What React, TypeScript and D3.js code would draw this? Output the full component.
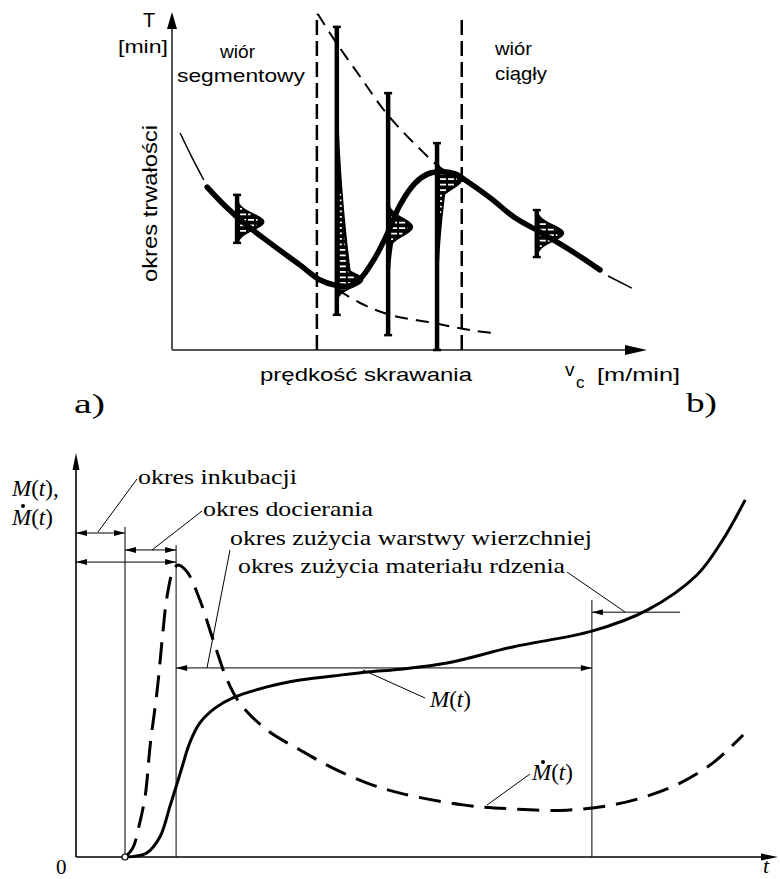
import React from "react";
import * as d3 from "d3";

// ---------- Chart a) : tool life vs cutting speed (units 0..100) ----------
const lifeThinStart: [number, number][] = [[1.7, 64.2], [4.2, 57.0], [6.7, 50.3]];
const lifeMain: [number, number][] = [
  [7.4, 48.2], [11.2, 42.6], [15.4, 37.3], [20.6, 31.7], [27.0, 25.1], [31.2, 20.7],
  [34.3, 19.2], [37.1, 18.9], [39.6, 21.0], [42.7, 27.2], [45.5, 34.9], [48.0, 42.9],
  [51.2, 49.4], [53.9, 52.1], [56.4, 52.7], [59.6, 52.1], [61.7, 50.3], [67.0, 45.0],
  [72.2, 39.1], [77.5, 34.9], [83.8, 29.6], [90.1, 23.7],
];
const lifeThinEnd: [number, number][] = [[91.8, 21.9], [96.8, 18.3]];
const upperEnvelope: [number, number][] = [
  [30.7, 99.4], [34.5, 91.1], [39.8, 80.5], [45.1, 70.1], [50.3, 62.1], [56.4, 53.8],
];
const lowerEnvelope: [number, number][] = [
  [35.0, 17.8], [39.6, 13.9], [45.9, 10.4], [55.0, 8.0], [62.7, 5.9], [68.0, 5.0],
];
const chipBoundaries = [30.5, 61.0];
const bells = [
  { x: 13.7, top: 45.9, bottom: 31.7, peak: 37.9, width: 5.6, sUp: 3.3, sDown: 3.3, tailTo: null as number | null, tailW: 0 },
  { x: 34.7, top: 95.6, bottom: 10.4, peak: 20.7, width: 5.4, sUp: 3.2, sDown: 3.0, tailTo: 85, tailW: 3 },
  { x: 45.5, top: 76.0, bottom: 4.4, peak: 36.4, width: 5.1, sUp: 3.6, sDown: 3.6, tailTo: 15, tailW: 1.5 },
  { x: 55.8, top: 61.2, bottom: 0, peak: 50.5, width: 5.2, sUp: 2.5, sDown: 4.0, tailTo: 12, tailW: 2 },
  { x: 76.8, top: 41.4, bottom: 27.5, peak: 34.6, width: 5.6, sUp: 3.3, sDown: 3.3, tailTo: null as number | null, tailW: 0 },
];

// ---------- Chart b) : wear M(t) and wear rate (units 0..100) ----------
const wear: [number, number][] = [
  [7.0, 0], [10.1, 1.0], [12.0, 5.0], [13.4, 12.4], [14.9, 20.8], [16.3, 28.5], [17.7, 33.2],
  [19.9, 36.9], [22.4, 39.4], [27.3, 42.1], [32.0, 43.8], [36.7, 44.8], [41.6, 45.8],
  [46.3, 46.5], [53.0, 48.0], [62.4, 52.0], [73.7, 55.9], [81.6, 61.1], [88.7, 69.8],
  [92.4, 78.5], [95.6, 88.4],
];
const wearRate: [number, number][] = [
  [7.0, 0], [8.1, 2.2], [9.1, 8.4], [9.9, 15.3], [10.6, 27.7], [11.6, 41.3], [12.4, 55.4],
  [13.0, 64.4], [13.9, 71.0], [14.6, 72.3], [15.9, 70.5], [17.7, 63.6], [19.6, 53.7],
  [21.6, 43.8], [23.4, 38.1], [27.3, 31.4], [32.0, 26.5], [36.7, 22.0], [41.6, 18.3],
  [46.3, 15.8], [55.3, 12.9], [62.4, 11.9], [70.1, 11.6], [76.7, 12.9], [82.0, 15.3],
  [86.3, 18.3], [91.0, 23.3], [95.3, 30.2],
];
const phaseBounds = [7.0, 14.3, 73.7];
const phaseTops = [81.7, 77.2, 63.6];
const periodArrows = [
  { from: 0, to: 7.0, level: 80.2, both: true },
  { from: 7.0, to: 14.3, level: 76.0, both: true },
  { from: 0, to: 14.3, level: 73.0, both: true },
  { from: 14.3, to: 73.7, level: 46.8, both: true },
  { from: 86.3, to: 73.7, level: 60.6, both: false },
];
const periodLabels = ["okres inkubacji", "okres docierania", "okres zużycia warstwy wierzchniej", "okres zużycia materiału rdzenia"];

const xA = d3.scaleLinear().domain([0, 100]).range([172, 647]);
const yA = d3.scaleLinear().domain([0, 100]).range([350, 12]);
const xB = d3.scaleLinear().domain([0, 100]).range([76, 776]);
const yB = d3.scaleLinear().domain([0, 100]).range([857, 453]);

const lineA = d3.line<[number, number]>().x(d => xA(d[0])).y(d => yA(d[1])).curve(d3.curveCatmullRom.alpha(0.5));
const lineB = d3.line<[number, number]>().x(d => xB(d[0])).y(d => yB(d[1])).curve(d3.curveCatmullRom.alpha(0.5));
const lineLin = d3.line<[number, number]>().x(d => xA(d[0])).y(d => yA(d[1]));

function bellW(b: typeof bells[number], v: number) {
  const d = v - b.peak;
  const s = d > 0 ? b.sUp : b.sDown;
  let w = b.width * Math.exp(-(d / s) * (d / s));
  if (b.tailTo != null) {
    const t = d / (b.tailTo - b.peak);
    if (t >= 0 && t <= 1) w = Math.max(w, b.tailW * (1 - t) * (1 - t));
  }
  return w;
}

const SANS = "'Liberation Sans', Arial, Helvetica, sans-serif";
const SERIF = "'Liberation Serif', 'Times New Roman', Times, serif";

function Head({ x, y, dir, len = 11, half = 3 }: { x: number; y: number; dir: "l" | "r" | "u"; len?: number; half?: number }) {
  let pts: number[][];
  if (dir === "r") pts = [[x, y], [x - len, y - half], [x - len, y + half]];
  else if (dir === "l") pts = [[x, y], [x + len, y - half], [x + len, y + half]];
  else pts = [[x, y], [x - half, y + len], [x + half, y + len]];
  return <polygon points={pts.map(p => p.join(",")).join(" ")} fill="#000" />;
}

export default function App() {
  return (
    <svg width={780} height={879} style={{ position: "absolute", left: 0, top: 0, background: "#fff" }}>
      {/* ================= chart a) ================= */}
      <g>
        <line x1={xA(0)} y1={yA(0)} x2={xA(0)} y2={yA(100) + 14} stroke="#555" strokeWidth={2} />
        <line x1={xA(0)} y1={yA(0)} x2={xA(100) - 16} y2={yA(0)} stroke="#555" strokeWidth={2} />
        <Head x={xA(0)} y={yA(100)} dir="u" len={17} half={5} />
        <Head x={xA(100)} y={yA(0)} dir="r" len={22} half={5} />

        {chipBoundaries.map((b, i) => (
          <line key={i} x1={xA(b)} x2={xA(b)} y1={yA(0)} y2={yA(99.2 - i * 0.6)} stroke="#000" strokeWidth={2.5} strokeDasharray="15 6" />
        ))}

        <path d={lineA(upperEnvelope)!} fill="none" stroke="#000" strokeWidth={2} strokeDasharray="13 8" />
        <path d={lineLin([[chipBoundaries[0], 99.2], upperEnvelope[0]])!} fill="none" stroke="#000" strokeWidth={2} />
        <path d={lineA(lowerEnvelope)!} fill="none" stroke="#000" strokeWidth={2} strokeDasharray="13 8" />

        {bells.map((b, i) => {
          const n = 240;
          const pts: [number, number][] = [[b.x, b.bottom]];
          for (let k = 0; k <= n; k++) {
            const v = b.bottom + (b.top - b.bottom) * (k / n);
            pts.push([b.x + bellW(b, v), v]);
          }
          pts.push([b.x, b.top]);
          const bx = xA(b.x);
          const hatches: JSX.Element[] = [];
          const pTop = yA(b.top), pBot = yA(b.bottom);
          for (let py = pTop + 3; py < pBot - 2; py += 5.5) {
            const wpx = xA(b.x + bellW(b, yA.invert(py))) - bx;
            if (wpx > 5) {
              hatches.push(<line key={py} x1={bx + 3} x2={bx + wpx * 0.8} y1={py} y2={py} stroke="#fff" strokeWidth={1.8} strokeDasharray={wpx > 10 ? "6 2" : "2 2"} />);
            }
          }
          return (
            <g key={i}>
              <path d={lineLin(pts)! + "Z"} fill="#000" stroke="#000" strokeWidth={1.5} />
              <line x1={bx} x2={bx} y1={pTop} y2={pBot} stroke="#000" strokeWidth={4.5} />
              <line x1={bx - 4} x2={bx + 4} y1={pTop} y2={pTop} stroke="#000" strokeWidth={2.5} />
              <line x1={bx - 4} x2={bx + 4} y1={pBot} y2={pBot} stroke="#000" strokeWidth={2.5} />
              {hatches}
            </g>
          );
        })}

        <path d={lineA(lifeThinStart)!} fill="none" stroke="#000" strokeWidth={1.5} />
        <path d={lineA(lifeMain)!} fill="none" stroke="#000" strokeWidth={5.5} strokeLinecap="round" strokeLinejoin="round" />
        <path d={lineA(lifeThinEnd)!} fill="none" stroke="#000" strokeWidth={1.5} />

        <g fontFamily={SANS} fill="#000">
          <text x={143} y={27} fontSize={20}>T</text>
          <text x={118} y={53} fontSize={19} textLength={50} lengthAdjust="spacingAndGlyphs">[min]</text>
          <text x={220} y={58} fontSize={19} textLength={35} lengthAdjust="spacingAndGlyphs">wiór</text>
          <text x={177} y={82} fontSize={19} textLength={128} lengthAdjust="spacingAndGlyphs">segmentowy</text>
          <text x={495} y={55} fontSize={19} textLength={37} lengthAdjust="spacingAndGlyphs">wiór</text>
          <text x={495} y={80} fontSize={19} textLength={52} lengthAdjust="spacingAndGlyphs">ciągły</text>
          <text transform="translate(157,282) rotate(-90)" fontSize={20} textLength={157} lengthAdjust="spacingAndGlyphs">okres trwałości</text>
          <text x={260} y={381} fontSize={19} textLength={212} lengthAdjust="spacingAndGlyphs">prędkość skrawania</text>
          <text x={565} y={376} fontSize={19}>v</text>
          <text x={576} y={388} fontSize={17}>c</text>
          <text x={597} y={381} fontSize={19} textLength={83} lengthAdjust="spacingAndGlyphs">[m/min]</text>
        </g>
        <g fontFamily={SERIF} fill="#000">
          <text x={74} y={413} fontSize={28} textLength={31} lengthAdjust="spacingAndGlyphs">a)</text>
          <text x={686} y={412} fontSize={28} textLength={31} lengthAdjust="spacingAndGlyphs">b)</text>
        </g>
      </g>

      {/* ================= chart b) ================= */}
      <g>
        <line x1={xB(0)} y1={yB(0)} x2={xB(0)} y2={yB(100) + 10} stroke="#000" strokeWidth={1.6} />
        <line x1={xB(0)} y1={yB(0)} x2={xB(100) - 10} y2={yB(0)} stroke="#000" strokeWidth={1.6} />
        <Head x={xB(0)} y={yB(100)} dir="u" len={17} half={3.5} />
        <Head x={xB(100) + 2} y={yB(0)} dir="r" len={17} half={3.5} />

        {phaseBounds.map((t, i) => (
          <line key={i} x1={xB(t)} x2={xB(t)} y1={yB(0)} y2={yB(phaseTops[i])} stroke="#000" strokeWidth={1} />
        ))}

        {periodArrows.map((a, i) => {
          const x1 = xB(a.from), x2 = xB(a.to), y = yB(a.level);
          const right = x2 > x1;
          return (
            <g key={i}>
              <line x1={x1} x2={x2} y1={y} y2={y} stroke="#000" strokeWidth={1} />
              <Head x={x2} y={y} dir={right ? "r" : "l"} />
              {a.both && <Head x={x1} y={y} dir={right ? "l" : "r"} />}
            </g>
          );
        })}

        <g stroke="#000" strokeWidth={1} fill="none">
          <line x1={98} y1={532} x2={137} y2={479} />
          <line x1={152} y1={550} x2={202} y2={511} />
          <line x1={207} y1={668} x2={230} y2={550} />
          <line x1={567} y1={572} x2={625} y2={612} />
          <line x1={363} y1={670} x2={425} y2={698} />
          <line x1={487} y1={805} x2={530} y2={774} />
        </g>

        <path d={lineB(wearRate)!} fill="none" stroke="#000" strokeWidth={3} strokeDasharray="22 11" />
        <path d={lineB(wear)!} fill="none" stroke="#000" strokeWidth={3} />
        <circle cx={xB(wear[0][0])} cy={yB(0)} r={3} fill="#fff" stroke="#000" strokeWidth={1.2} />

        <g fontFamily={SERIF} fill="#000" fontSize={22}>
          <text x={138} y={484} textLength={159} lengthAdjust="spacingAndGlyphs">{periodLabels[0]}</text>
          <text x={203} y={516} textLength={170} lengthAdjust="spacingAndGlyphs">{periodLabels[1]}</text>
          <text x={230} y={545} textLength={362} lengthAdjust="spacingAndGlyphs">{periodLabels[2]}</text>
          <text x={238} y={573} textLength={327} lengthAdjust="spacingAndGlyphs">{periodLabels[3]}</text>

          <text x={12} y={496} fontSize={23}><tspan fontStyle="italic">M</tspan>(<tspan fontStyle="italic">t</tspan>),</text>
          <text x={12} y={525} fontSize={23}><tspan fontStyle="italic">M</tspan>(<tspan fontStyle="italic">t</tspan>)</text>
          <circle cx={23} cy={506} r={2} fill="#000" />

          <text x={430} y={707} fontSize={23}><tspan fontStyle="italic">M</tspan>(<tspan fontStyle="italic">t</tspan>)</text>
          <text x={532} y={780} fontSize={23}><tspan fontStyle="italic">M</tspan>(<tspan fontStyle="italic">t</tspan>)</text>
          <circle cx={543} cy={762} r={2} fill="#000" />

          <text x={56} y={874} fontSize={21}>0</text>
          <text x={763} y={873} fontSize={22} fontStyle="italic">t</text>
        </g>
      </g>
    </svg>
  );
}
